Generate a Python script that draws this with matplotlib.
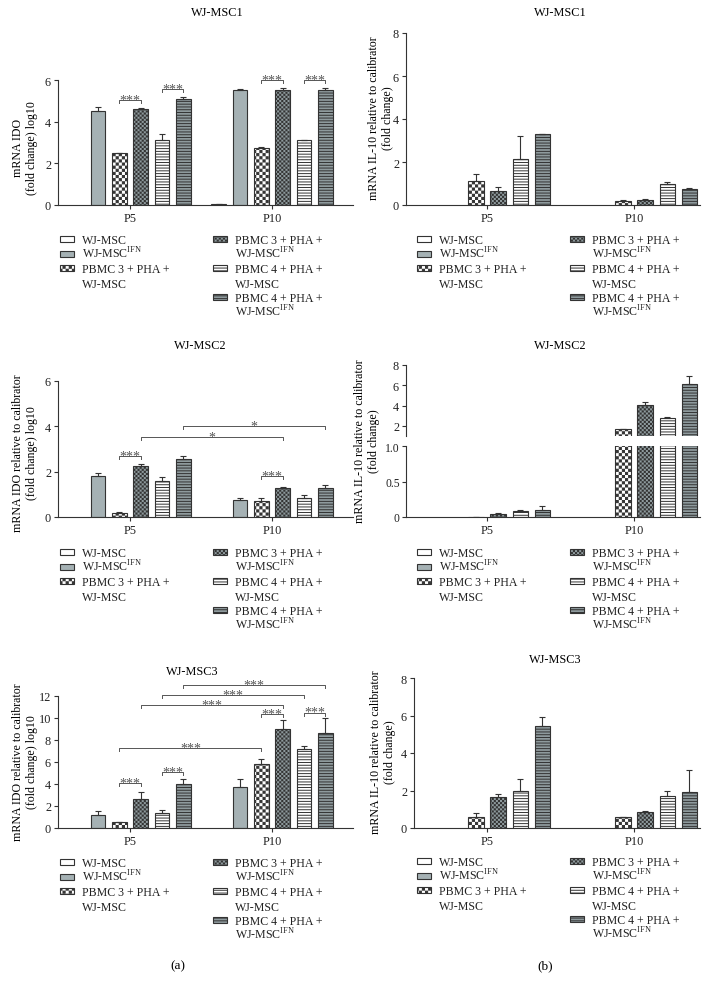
import warnings
import numpy as np
import matplotlib
matplotlib.use("Agg")
import matplotlib.pyplot as plt
from matplotlib import hatch as mhatch
from matplotlib.path import Path
from matplotlib.patches import Rectangle

warnings.filterwarnings("ignore")

plt.rcParams['font.family'] = ['Liberation Serif', 'DejaVu Serif']
plt.rcParams['mathtext.fontset'] = 'custom'
plt.rcParams['mathtext.rm'] = 'Liberation Serif'
plt.rcParams['hatch.linewidth'] = 0.7

# ---------------- data ----------------
nan = np.nan
groups = ["P5", "P10"]
series_labels = ["WJ-MSC", "WJ-MSC$^{\\mathrm{IFN}}$",
                 "PBMC 3 + PHA +\nWJ-MSC", "PBMC 3 + PHA +\nWJ-MSC$^{\\mathrm{IFN}}$",
                 "PBMC 4 + PHA +\nWJ-MSC", "PBMC 4 + PHA +\nWJ-MSC$^{\\mathrm{IFN}}$"]

# IDO, WJ-MSC1
ido1_p5 = [nan, 4.53, 2.49, 4.62, 3.13, 5.07]
ido1_p5_err = [0, 0.16, 0.03, 0.03, 0.26, 0.13]
ido1_p10 = [0.06, 5.52, 2.76, 5.54, 3.10, 5.54]
ido1_p10_err = [0, 0.05, 0.03, 0.06, 0.02, 0.08]
# IDO, WJ-MSC2
ido2_p5 = [nan, 1.80, 0.19, 2.26, 1.60, 2.56]
ido2_p5_err = [0, 0.16, 0.05, 0.10, 0.17, 0.13]
ido2_p10 = [nan, 0.75, 0.71, 1.30, 0.86, 1.30]
ido2_p10_err = [0, 0.11, 0.12, 0.02, 0.10, 0.09]
# IDO, WJ-MSC3
ido3_p5 = [nan, 1.21, 0.51, 2.63, 1.33, 3.99]
ido3_p5_err = [0, 0.33, 0.0, 0.60, 0.27, 0.48]
ido3_p10 = [nan, 3.72, 5.80, 9.03, 7.16, 8.61]
ido3_p10_err = [0, 0.78, 0.45, 0.76, 0.30, 1.39]
# IL-10, WJ-MSC1
il1_p5 = [nan, nan, 1.12, 0.64, 2.15, 3.28]
il1_p5_err = [0, 0, 0.31, 0.18, 1.05, 0.02]
il1_p10 = [nan, nan, 0.20, 0.25, 0.97, 0.75]
il1_p10_err = [0, 0, 0.05, 0.02, 0.09, 0.03]
# IL-10, WJ-MSC2
il2_p5 = [nan, nan, 0.005, 0.045, 0.08, 0.095]
il2_p5_err = [0, 0, 0.002, 0.01, 0.025, 0.06]
il2_p10 = [nan, nan, 1.70, 4.05, 2.73, 6.12]
il2_p10_err = [0, 0, 0.02, 0.35, 0.12, 0.82]
# IL-10, WJ-MSC3
il3_p5 = [nan, nan, 0.61, 1.66, 2.00, 5.44]
il3_p5_err = [0, 0, 0.17, 0.14, 0.60, 0.50]
il3_p10 = [nan, nan, 0.59, 0.86, 1.73, 1.93]
il3_p10_err = [0, 0, 0.01, 0.03, 0.25, 1.15]

# significance brackets: (group a, series a, group b, series b, height, label)
sig_ido1 = [(0, 2, 0, 3, 5.04, "***"), (0, 4, 0, 5, 5.57, "***"),
            (1, 2, 1, 3, 6.0, "***"), (1, 4, 1, 5, 6.0, "***")]
sig_ido2 = [(0, 2, 0, 3, 2.70, "***"), (1, 2, 1, 3, 1.82, "***"),
            (0, 3, 1, 3, 3.52, "*"), (0, 5, 1, 5, 4.0, "*")]
sig_ido3 = [(0, 2, 0, 3, 4.05, "***"), (0, 4, 0, 5, 5.05, "***"),
            (0, 2, 1, 2, 7.25, "***"), (1, 2, 1, 3, 10.4, "***"),
            (1, 4, 1, 5, 10.5, "***"), (0, 3, 1, 3, 11.2, "***"),
            (0, 4, 1, 4, 12.1, "***"), (0, 5, 1, 5, 13.0, "***")]

# ---------------- styles ----------------
edge = '#333333'
grey = '#a5b1b4'
faces = ['white', grey, 'white', '#8e9a9d', 'white', '#8e9a9d']
hatches = [None, None, 'cccc', 'cccccc', '------', '------']
group_x = np.array([0.0, 1.0])
bar_step = 0.15
bar_w = 0.103
W, H = 714, 987
FS = 8.8


class CheckerHatch(mhatch.HatchPatternBase):
    """checkerboard hatch, every 'c' adds 8 cells per inch"""
    def __init__(self, hatch, density):
        self.n = hatch.count('c') * 8
        self.num_vertices = self.n * self.n // 2 * 5

    def set_vertices_and_codes(self, vertices, codes):
        step = 1.0 / self.n
        e = 0.0048
        sq = np.array([[e, e], [step - e, e], [step - e, step - e], [e, step - e], [e, e]])
        cells = [(i, j) for i in range(self.n) for j in range(self.n) if (i + j) % 2 == 0]
        vertices[:] = np.concatenate([sq + [i * step, j * step] for i, j in cells])
        one = [Path.MOVETO, Path.LINETO, Path.LINETO, Path.LINETO, Path.CLOSEPOLY]
        codes[:] = np.tile(one, len(cells))


mhatch._hatch_types.append(CheckerHatch)

fig = plt.figure(figsize=(W / 100, H / 100), dpi=100)


def px_axes(l, t, r, b):
    return fig.add_axes([l / W, 1 - b / H, (r - l) / W, (b - t) / H])


def fx(x):
    return x / W


def fy(y):
    return 1 - y / H


def draw_bars(ax, p5, p5_err, p10, p10_err):
    vals = np.array([p5, p10], dtype=float).T
    errs = np.array([p5_err, p10_err], dtype=float).T
    for i in range(6):
        x = group_x + (i - 2.5) * bar_step
        ax.bar(x, vals[i], width=bar_w, color=faces[i], edgecolor=edge,
               hatch=hatches[i], linewidth=0.8, zorder=2)
        ax.errorbar(x, vals[i], yerr=[np.zeros(2), errs[i]], fmt='none', ecolor=edge,
                    elinewidth=0.8, capsize=2.5, capthick=0.8, zorder=3)


def style(ax, xlim, ylim, yticks, yticklabels=None, xaxis=True):
    ax.set_xlim(xlim)
    ax.set_ylim(ylim)
    ax.set_yticks(yticks)
    if yticklabels is not None:
        ax.set_yticklabels(yticklabels)
    ax.spines[['top', 'right']].set_visible(False)
    ax.spines[['left', 'bottom']].set_color(edge)
    ax.spines[['left', 'bottom']].set_linewidth(0.8)
    ax.tick_params(length=3, width=0.8, color=edge, labelsize=FS, labelcolor='#222', pad=2)
    ax.patch.set_alpha(0)
    if xaxis:
        ax.set_xticks(group_x, groups)
    else:
        ax.spines['bottom'].set_visible(False)
        ax.set_xticks([])


def draw_brackets(ax, brackets, height_px):
    y0, y1 = ax.get_ylim()
    d = (y1 - y0) * 3 / height_px
    for g1, s1, g2, s2, y, label in brackets:
        xa = group_x[g1] + (s1 - 2.5) * bar_step
        xb = group_x[g2] + (s2 - 2.5) * bar_step
        ax.plot([xa, xa, xb, xb], [y - d, y, y, y - d], color='#555555', lw=0.7,
                clip_on=False, zorder=4)
        ax.annotate(label, xy=((xa + xb) / 2, y), xytext=(0, -2.5), textcoords='offset points',
                    ha='center', va='baseline', fontsize=10, color='#555555',
                    annotation_clip=False)


def draw_legend(x0, y0):
    pitch = 14.6
    layout = [(0, 0, 0), (1, 0, 1), (2, 0, 2), (3, 1, 0), (4, 1, 2), (5, 1, 4)]
    for s, col, line in layout:
        px = x0 + col * 153
        py = y0 + line * pitch
        fig.add_artist(Rectangle((fx(px), fy(py + 3)), 14 / W, 6 / H, transform=fig.transFigure,
                                 facecolor=faces[s], edgecolor=edge, hatch=hatches[s], lw=0.8))
        for k, txt in enumerate(series_labels[s].split("\n")):
            fig.text(fx(px + 22), fy(py + 4 + k * pitch), txt, fontsize=8.6,
                     va='baseline', ha='left', color='#222')


ylab_ido1 = "mRNA IDO\n(fold change) log10"
ylab_ido = "mRNA IDO relative to calibrator\n(fold change) log10"
ylab_il = "mRNA IL-10 relative to calibrator\n(fold change)"
YFS = 8.6

xlim_a = (-0.507, 1.57)
xlim_b = (-0.551, 1.449)

# ----- (a) top
ax = px_axes(58, 81, 353, 206)
draw_bars(ax, ido1_p5, ido1_p5_err, ido1_p10, ido1_p10_err)
style(ax, xlim_a, (0, 6), [0, 2, 4, 6])
draw_brackets(ax, sig_ido1, 125)
fig.text(fx(217), fy(13), "WJ-MSC1", fontsize=FS, ha='center', va='center')
fig.text(fx(25), fy(148), ylab_ido1, fontsize=YFS, rotation=90, ha='center', va='center')
draw_legend(60, 240)

# ----- (b) top
ax = px_axes(406, 34, 700, 206)
draw_bars(ax, il1_p5, il1_p5_err, il1_p10, il1_p10_err)
style(ax, xlim_b, (0, 8), [0, 2, 4, 6, 8])
fig.text(fx(560), fy(13), "WJ-MSC1", fontsize=FS, ha='center', va='center')
fig.text(fx(381), fy(118), ylab_il, fontsize=YFS, rotation=90, ha='center', va='center')
draw_legend(417, 240)

# ----- (a) middle
ax = px_axes(58, 382, 353, 518)
draw_bars(ax, ido2_p5, ido2_p5_err, ido2_p10, ido2_p10_err)
style(ax, xlim_a, (0, 6), [0, 2, 4, 6])
draw_brackets(ax, sig_ido2, 136)
fig.text(fx(200), fy(346), "WJ-MSC2", fontsize=FS, ha='center', va='center')
fig.text(fx(25), fy(453), ylab_ido, fontsize=YFS, rotation=90, ha='center', va='center')
draw_legend(60, 553)

# ----- (b) middle, broken y axis
ax_hi = px_axes(406, 366, 700, 437)
draw_bars(ax_hi, il2_p5, il2_p5_err, il2_p10, il2_p10_err)
style(ax_hi, xlim_b, (1, 8), [2, 4, 6, 8], xaxis=False)
ax_lo = px_axes(406, 447, 700, 518)
draw_bars(ax_lo, il2_p5, il2_p5_err, il2_p10, il2_p10_err)
style(ax_lo, xlim_b, (0, 1), [0, 0.5, 1.0], ["0", "0.5", "1.0"])
ax_lo.tick_params(axis='y', labelsize=8.4, pad=1.5)
fig.text(fx(367), fy(441), ylab_il, fontsize=YFS, rotation=90, ha='center', va='center')
fig.text(fx(560), fy(346), "WJ-MSC2", fontsize=FS, ha='center', va='center')
draw_legend(417, 553)

# ----- (a) bottom
ax = px_axes(58, 697, 353, 829)
draw_bars(ax, ido3_p5, ido3_p5_err, ido3_p10, ido3_p10_err)
style(ax, xlim_a, (0, 12), [0, 2, 4, 6, 8, 10, 12])
draw_brackets(ax, sig_ido3, 132)
fig.text(fx(192), fy(672), "WJ-MSC3", fontsize=FS, ha='center', va='center')
fig.text(fx(25), fy(762), ylab_ido, fontsize=YFS, rotation=90, ha='center', va='center')
draw_legend(60, 863)

# ----- (b) bottom
ax = px_axes(414, 679, 700, 829)
draw_bars(ax, il3_p5, il3_p5_err, il3_p10, il3_p10_err)
style(ax, (-0.497, 1.449), (0, 8), [0, 2, 4, 6, 8])
fig.text(fx(555), fy(660), "WJ-MSC3", fontsize=FS, ha='center', va='center')
fig.text(fx(383), fy(752), ylab_il, fontsize=YFS, rotation=90, ha='center', va='center')
draw_legend(417, 862)

fig.text(fx(178), fy(966), "(a)", fontsize=9.5, ha='center', va='center')
fig.text(fx(545), fy(966), "(b)", fontsize=9.5, ha='center', va='center')

fig.savefig("out.png", dpi=100, facecolor='white')
